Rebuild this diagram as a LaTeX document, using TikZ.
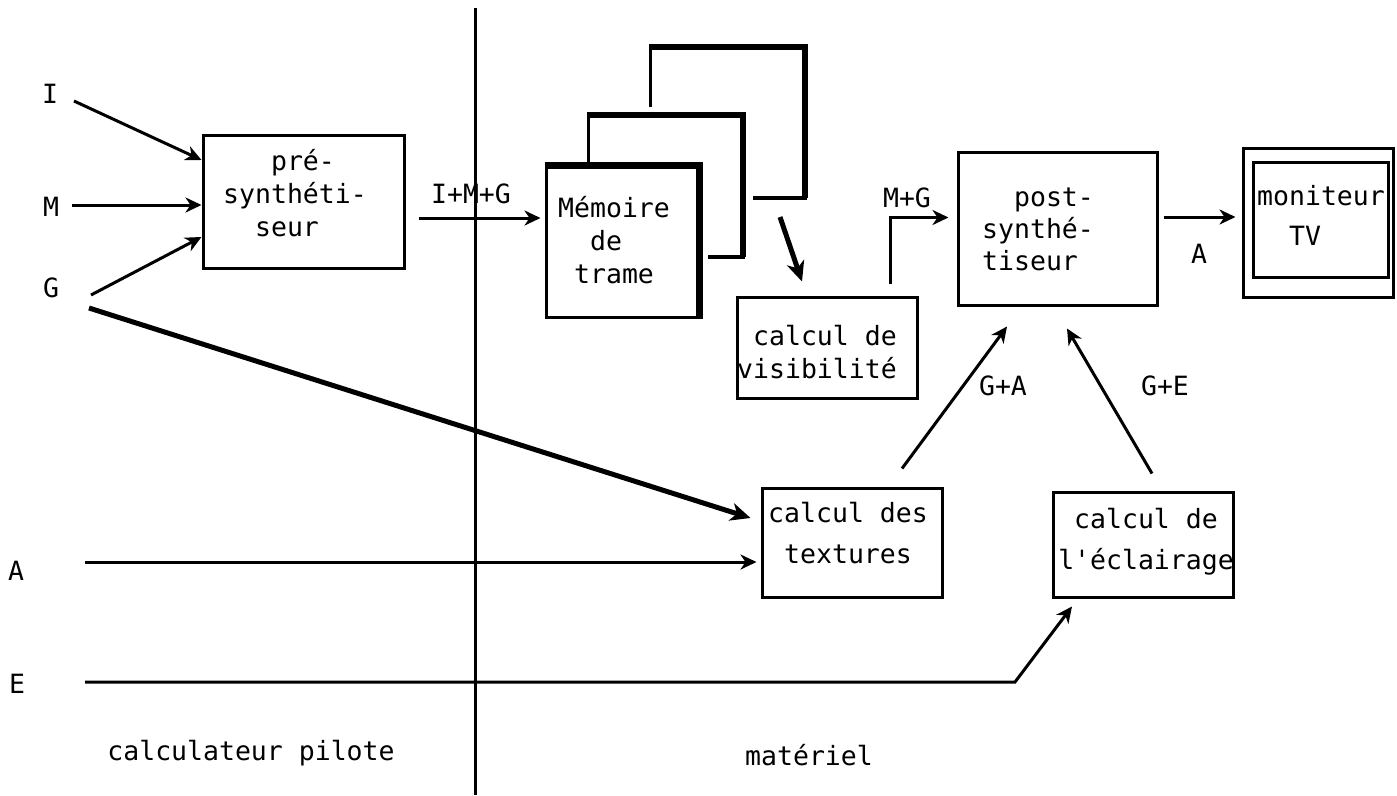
\documentclass[tikz,border=0pt]{standalone}
\usepackage{fontspec}
\newfontfamily\tw{DejaVu Sans Mono}
\usetikzlibrary{arrows.meta}
\newcommand\fls{\rule{0pt}{22pt}}
\newcommand\apos{\char"27\relax}
\begin{document}
\begin{tikzpicture}[x=1pt,y=-1pt,
  every node/.style={font=\tw\fontsize{26.5pt}{33pt}\selectfont, inner sep=0pt},
  box/.style={draw, line width=3pt, inner sep=0pt},
  ln/.style={line width=3pt},
  arr/.style={ln, -{Stealth[length=16pt,width=15pt,inset=5pt]}},
  thickarr/.style={line width=5pt, -{Stealth[length=20pt,width=18pt,inset=6pt]}},
  lbl/.style={anchor=base},
  blk/.style={anchor=north west, align=left},
  blkc/.style={anchor=north, align=center}]

\useasboundingbox (0,0) rectangle (1397,795);

% divider
\coordinate (dtop) at (475,8);
\coordinate (dbot) at (475,795);
\draw[ln] (dtop) -- (dbot);

% boxes
\node[box, minimum width=201pt, minimum height=133pt] (pre) at (303.5,201.5) {};
\node[box, minimum width=152pt, minimum height=150pt] (mem) at (622,242) {};
\node[box, minimum width=180pt, minimum height=101pt] (vis) at (827,347.5) {};
\node[box, minimum width=199pt, minimum height=153pt] (post) at (1057.5,228.5) {};
\node[box, minimum width=180pt, minimum height=109pt] (tex) at (852,542.5) {};
\node[box, minimum width=180pt, minimum height=105pt] (ecl) at (1143,544.5) {};
\node[box, minimum width=150pt, minimum height=149pt] (monO) at (1318,222.5) {};
\node[box, minimum width=135pt, minimum height=115pt] (monI) at (1320.5,219.5) {};

% memory stack
\draw[line width=7pt] (mem.north west) -- (mem.north east) -- (mem.south east);
\draw[line width=3pt] (588,167) -- (588,113);
\draw[line width=6pt] (586.5,115) -- (743,115) -- (743,257);
\draw[line width=4pt] (745,257) -- (708,257);
\draw[line width=3pt] (650,107) -- (650,45);
\draw[line width=6pt] (648.5,47) -- (805,47) -- (805,198);
\draw[line width=4pt] (807,198) -- (753,198);

% box texts
\node[blk] (preT) at (223,148) {\fls\phantom{xxx}pré-\\synthéti-\\\phantom{xx}seur};
\node[blk] (memT) at (558,195) {\fls Mémoire\\\phantom{xx}de\\\phantom{x}trame};
\node[blk] (visT) at (737,323) {\fls\phantom{x}calcul de\\visibilité};
\node[blk, font=\tw\fontsize{26.5pt}{32pt}\selectfont] (postT) at (982,184) {\fls\phantom{xx}post-\\synthé-\\tiseur};
\node[blk, font=\tw\fontsize{26.5pt}{40pt}\selectfont] (monT) at (1257,183) {\fls moniteur\\\phantom{xx}TV};
\node[blkc, font=\tw\fontsize{26.5pt}{41pt}\selectfont] (texT) at (848,500) {\fls calcul des\\textures};
\node[blkc, font=\tw\fontsize{26.5pt}{41pt}\selectfont] (eclT) at (1146,506) {\fls calcul de\\l\apos éclairage};

% labels
\node[lbl] (lI) at (50,103) {I};
\node[lbl] (lM) at (51,216) {M};
\node[lbl] (lG) at (51,297) {G};
\node[lbl] (lA) at (16,580) {A};
\node[lbl] (lE) at (17,693) {E};
\node[lbl] (lIMG) at (471,203) {I+M+G};
\node[lbl] (lMG) at (907,207) {M+G};
\node[lbl] (lAo) at (1199,263) {A};
\node[lbl] (lGA) at (1003,395) {G+A};
\node[lbl] (lGE) at (1165,395) {G+E};
\node[lbl] (lcp) at (251,760) {calculateur pilote};
\node[lbl] (lmat) at (809,765) {matériel};

% free ends
\coordinate (sI) at (74,101);
\coordinate (sM) at (72,205);
\coordinate (sG) at (91,295);
\coordinate (sG2) at (89,308);
\coordinate (sA) at (85,562);
\coordinate (sE) at (85,682);
\coordinate (kE) at (1015,682);
\coordinate (memout) at (780,217);

% connectors
\draw[arr] (sI) -- ([yshift=41.5pt]pre.west);
\draw[arr] (sM) -- ([yshift=-3.5pt]pre.west);
\draw[arr] (sG) -- ([yshift=-35.5pt]pre.west);
\draw[arr] ([xshift=13pt,yshift=-16.5pt]pre.east) -- ([xshift=-4pt,yshift=24pt]mem.west);
\draw[thickarr] (memout) -- ([xshift=-25pt,yshift=14pt]vis.north);
\draw[arr] ([xshift=63pt,yshift=12pt]vis.north) |- ([xshift=-8pt,yshift=11pt]post.west);
\draw[arr] ([xshift=5pt,yshift=11.5pt]post.east) -- ([xshift=-6pt,yshift=5.5pt]monO.west);
\draw[arr] ([xshift=50pt,yshift=18pt]tex.north) -- ([xshift=-50.5pt,yshift=-20pt]post.south);
\draw[arr] ([xshift=9pt,yshift=17pt]ecl.north) -- ([xshift=9.5pt,yshift=-22pt]post.south);
\draw[arr] (sA) -- ([xshift=-4pt,yshift=-19.5pt]tex.west);
\draw[thickarr] (sG2) -- ([xshift=-10pt,yshift=24.5pt]tex.west);
\draw[arr] (sE) -- (kE) -- ([xshift=-71pt,yshift=-8pt]ecl.south);
\end{tikzpicture}
\end{document}
